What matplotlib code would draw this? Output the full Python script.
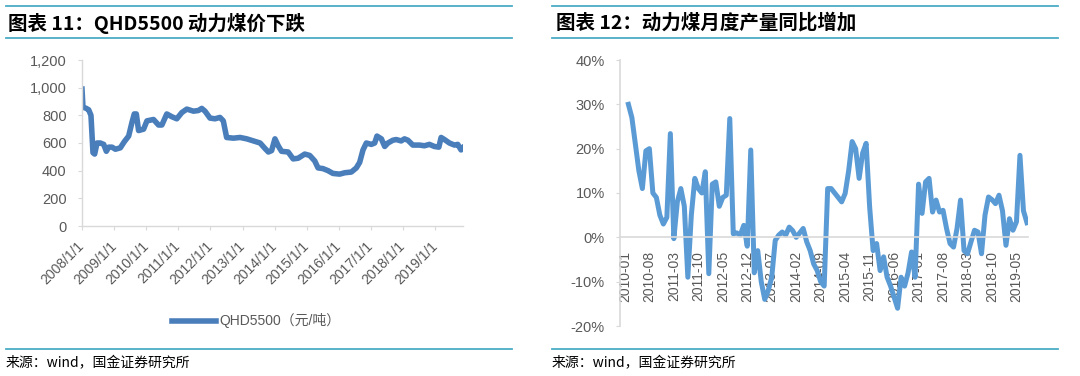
import matplotlib
matplotlib.use("Agg")
import matplotlib.pyplot as plt
import numpy as np
import pandas as pd

plt.rcParams['font.family'] = ['Liberation Sans', 'Noto Sans CJK SC', 'DejaVu Sans']

# ---------------- Data: left chart (QHD5500 price) ----------------
price_dates = [
    '2008-01-01', '2008-01-12', '2008-02-19', '2008-03-17', '2008-04-12', '2008-05-05',
    '2008-05-24', '2008-06-20', '2008-07-28', '2008-09-04', '2008-10-04', '2008-10-31',
    '2008-12-08', '2009-01-15', '2009-03-12', '2009-04-27', '2009-06-15', '2009-07-23',
    '2009-08-18', '2009-09-10', '2009-10-06', '2009-12-02', '2010-01-09', '2010-03-25',
    '2010-05-21', '2010-06-28', '2010-08-23', '2010-10-19', '2010-12-15', '2011-02-10',
    '2011-04-08', '2011-06-23', '2011-08-18', '2011-09-25', '2011-11-01', '2011-12-28',
    '2012-02-23', '2012-04-19', '2012-05-27', '2012-07-04', '2012-09-19', '2012-12-04',
    '2013-02-18', '2013-05-05', '2013-07-20', '2013-09-14', '2013-10-22', '2013-11-28',
    '2014-01-05', '2014-02-11', '2014-03-21', '2014-06-04', '2014-07-31', '2014-09-26',
    '2014-12-10', '2015-02-05', '2015-04-03', '2015-05-10', '2015-07-05', '2015-09-01',
    '2015-10-27', '2016-01-11', '2016-03-10', '2016-05-23', '2016-07-19', '2016-08-26',
    '2016-10-03', '2016-11-10', '2017-01-06', '2017-02-13', '2017-03-11', '2017-04-30',
    '2017-06-07', '2017-07-14', '2017-09-08', '2017-10-16', '2017-12-11', '2018-01-18',
    '2018-02-26', '2018-04-23', '2018-07-08', '2018-09-02', '2018-10-29', '2018-12-24',
    '2019-02-13', '2019-03-11', '2019-04-18', '2019-06-13', '2019-08-10', '2019-09-16',
    '2019-10-24', '2019-11-12',
]
price_values = [
    990, 860, 850, 840, 800, 530,
    520, 600, 600, 590, 540, 570,
    570, 555, 565, 610, 650, 750,
    810, 810, 690, 700, 760, 770,
    730, 730, 810, 790, 775, 820,
    845, 830, 835, 850, 830, 780,
    775, 785, 760, 640, 635, 640,
    630, 615, 600, 560, 535, 545,
    630, 580, 540, 535, 485, 490,
    520, 510, 470, 420, 415, 400,
    380, 375, 385, 390, 420, 460,
    550, 600, 590, 600, 650, 630,
    575, 600, 620, 625, 615, 630,
    620, 585, 585, 580, 590, 575,
    570, 640, 625, 600, 585, 590,
    550, 565,
]
price_ticks = ['2008/1/1', '2009/1/1', '2010/1/1', '2011/1/1', '2012/1/1', '2013/1/1',
               '2014/1/1', '2015/1/1', '2016/1/1', '2017/1/1', '2018/1/1', '2019/1/1']
price_yticks = [0, 200, 400, 600, 800, 1000, 1200]
price_label = 'QHD5500（元/吨）'

# ---------------- Data: right chart (monthly YoY output) ----------------
months = pd.period_range('2010-01', '2019-08', freq='M').strftime('%Y-%m').tolist()
yoy = [
    np.nan, 30, 27, 21, 15, 11, 19.5, 20, 10, 9,
    5, 3, 4.5, 23.4, -0.3, 8, 11, 7, -9, 5,
    13.3, 11, 10, 14.8, -8.2, 12, 12.5, 7, 9, 9.5,
    26.8, 0.8, 1, 0.5, 2.7, -2, 19.7, -8, -3, -10,
    -14, -12, -9, -0.7, 0.5, 1.2, 0.5, 2.3, 1.5, 0,
    1, 2, -1, -3, -6, -7.5, -10, -11, 11, 11,
    10, 9, 8, 9.9, 15, 21.6, 20, 13.3, 19, 21.2,
    6.9, -3, -1.4, -7.5, -4.4, -9, -11, -13.5, -16, -9,
    -11, -8, -3.3, -9, 12, 5.4, 12.5, 13.3, 5.7, 8.4,
    5.7, 6.1, 2, -1.4, -2.2, 2, 8.4, -3, -3.7, -1,
    1.6, 1.2, -3.7, 5, 9.1, 8.5, 7.6, 9.5, 6, -1.8,
    4.2, 1.6, 3.5, 18.5, 6, 3.3,
]
yoy_tick_step = 7
yoy_yticks = [-20, -10, 0, 10, 20, 30, 40]

title_left = '图表 11：QHD5500 动力煤价下跌'
title_right = '图表 12：动力煤月度产量同比增加'
source_text = '来源：wind，国金证券研究所'

# ---------------- Figure ----------------
W, H = 1080, 376
fig = plt.figure(figsize=(W / 100, H / 100), dpi=100)
fig.patch.set_facecolor('white')

rule_color = '#4BACC6'
grey_text = '#595959'
axis_grey = '#D9D9D9'
cjk = ['Noto Sans CJK SC', 'DejaVu Sans']

def px_axes(x0, y0, x1, y1):
    return fig.add_axes([x0 / W, 1 - y1 / H, (x1 - x0) / W, (y1 - y0) / H])

def hline(x0, x1, y):
    fig.add_artist(plt.Line2D([x0 / W, x1 / W], [1 - y / H, 1 - y / H],
                              color=rule_color, lw=1.3, transform=fig.transFigure))

for (xa, xb) in [(6, 512), (552, 1058)]:
    hline(xa, xb, 6)
    hline(xa, xb, 38)
    hline(xa, xb, 349)

fig.text(8 / W, 1 - 23 / H, title_left, fontsize=14, fontweight='bold',
         family=cjk, va='center', ha='left', color='black')
fig.text(556 / W, 1 - 23 / H, title_right, fontsize=14, fontweight='bold',
         family=cjk, va='center', ha='left', color='black')
fig.text(6 / W, 1 - 363 / H, source_text, fontsize=10,
         family=cjk, va='center', ha='left', color='black')
fig.text(552 / W, 1 - 363 / H, source_text, fontsize=10,
         family=cjk, va='center', ha='left', color='black')

# ---------------- Left chart ----------------
ax1 = px_axes(82, 60, 463, 226)
pdates = pd.to_datetime(price_dates)
line1, = ax1.plot(pdates, price_values, color='#4A7EBB', lw=4, solid_joinstyle='round')
ax1.set_ylim(0, 1200)
ax1.set_yticks(price_yticks)
ax1.set_yticklabels([f'{v:,}' for v in price_yticks])
ax1.set_xlim(pd.Timestamp('2008-01-01'), pd.Timestamp('2019-11-15'))
tick_dates = [pd.Timestamp(t.replace('/', '-')) for t in price_ticks]
ax1.set_xticks(tick_dates)
ax1.set_xticklabels(price_ticks, rotation=45, ha='right', va='center', rotation_mode='anchor')
for s in ['top', 'right']:
    ax1.spines[s].set_visible(False)
for s in ['left', 'bottom']:
    ax1.spines[s].set_color(axis_grey)
    ax1.spines[s].set_linewidth(1)
ax1.tick_params(axis='y', colors=axis_grey, labelcolor=grey_text, labelsize=10.5, length=3, pad=8)
ax1.tick_params(axis='x', colors=axis_grey, labelcolor=grey_text, labelsize=10, length=3, pad=10)
leg = fig.legend([line1], [price_label], loc='center', bbox_to_anchor=(256 / W, 1 - 321 / H),
                 frameon=False, handlelength=3.2, handletextpad=0.2,
                 prop={'family': ['Liberation Sans', 'Noto Sans CJK SC'], 'size': 10})
for t in leg.get_texts():
    t.set_color(grey_text)

# ---------------- Right chart ----------------
ax2 = px_axes(620, 60, 1028, 326)
ax2.spines['bottom'].set_position(('data', 0))
mi = np.arange(len(months))
ax2.plot(mi, yoy, color='#5B9BD5', lw=3.6, solid_joinstyle='round')
ax2.set_ylim(-20, 40)
ax2.set_yticks(yoy_yticks)
ax2.set_yticklabels([f'{v}%' for v in yoy_yticks])
ax2.set_xlim(-1.4, 115.3)
tick_idx = mi[::yoy_tick_step]
ax2.set_xticks(tick_idx)
ax2.set_xticklabels([months[i] for i in tick_idx], rotation=90, ha='center', va='top')
for s in ['top', 'right']:
    ax2.spines[s].set_visible(False)
for s in ['left', 'bottom']:
    ax2.spines[s].set_color(axis_grey)
    ax2.spines[s].set_linewidth(1.2)
ax2.tick_params(axis='y', colors=axis_grey, labelcolor=grey_text, labelsize=10.5, length=3, pad=8)
ax2.tick_params(axis='x', colors=axis_grey, labelcolor=grey_text, labelsize=10, length=0, pad=10)

fig.savefig('out.png', dpi=100, facecolor='white')
